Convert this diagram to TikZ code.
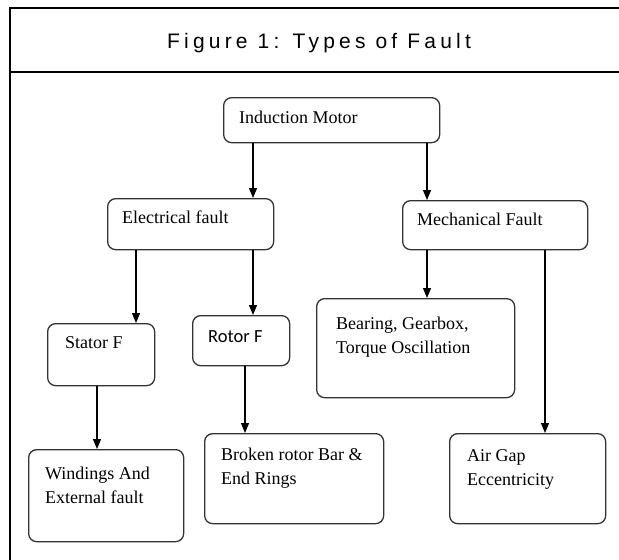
\documentclass[tikz,border=0pt]{standalone}
\usepackage{fontspec}
\setmainfont{Liberation Serif}
\newfontfamily\titlefont[LetterSpace=20]{Liberation Sans}
\newfontfamily\calfont{Carlito}
\usetikzlibrary{positioning,arrows.meta}

\begin{document}
\begin{tikzpicture}[x=1pt,y=-1pt,
  fault/.style = {shape=rectangle, rounded corners=8pt, draw=black!80,
    line width=1.3pt, anchor=north west, inner sep=0pt},
  faulttext/.style = {anchor=north west, inner sep=0pt, align=left,
    font=\fontsize{18}{24}\selectfont},
  arr/.style = {-{Triangle[length=10pt,width=8pt]}, line width=1.2pt}]
  \useasboundingbox (0,0) rectangle (619,560);
  % frame and title band
  \draw[line width=1.5pt] (619,8) -- (10,8) -- (10,560);
  \draw[line width=2.2pt] (10,72) -- (619,72);
  \node (title) [anchor=base, inner sep=0pt,
    font=\titlefont\fontsize{21}{24}\selectfont] at (319,48)
    {Figure 1: Types of Fault};
  % boxes
  \node (im)   [fault, minimum width=216pt, minimum height=45pt] at (223,97) {};
  \node (elec) [fault, minimum width=166pt, minimum height=51pt] at (107,198) {};
  \node (mech) [fault, minimum width=185pt, minimum height=49pt] at (402,200) {};
  \node (stat) [fault, minimum width=107pt, minimum height=62pt] at (47,323) {};
  \node (rot)  [fault, minimum width=97pt,  minimum height=50pt] at (192,315) {};
  \node (bear) [fault, minimum width=198pt, minimum height=99pt] at (316,298) {};
  \node (wind) [fault, minimum width=155pt, minimum height=92pt] at (28,449) {};
  \node (brok) [fault, minimum width=179pt, minimum height=90pt] at (204,433) {};
  \node (air)  [fault, minimum width=156pt, minimum height=90pt] at (449,433) {};
  % texts
  \node (imt)   [faulttext, below right=13.5pt and 16pt of im.north west] {Induction Motor};
  \node (elect) [faulttext, below right=12.5pt and 15pt of elec.north west] {Electrical fault};
  \node (mecht) [faulttext, below right=12.5pt and 15pt of mech.north west] {Mechanical Fault};
  \node (statt) [faulttext, below right=13.5pt and 18pt of stat.north west] {Stator F};
  \node (rott)  [faulttext, font=\calfont\fontsize{18.5}{20}\selectfont,
    below right=15pt and 16pt of rot.north west] {Rotor F};
  \node (beart) [faulttext, below right=18.5pt and 20pt of bear.north west]
    {Bearing, Gearbox,\\Torque Oscillation};
  \node (windt) [faulttext, below right=17.5pt and 17pt of wind.north west]
    {Windings And\\External fault};
  \node (brokt) [faulttext, below right=14.5pt and 17pt of brok.north west]
    {Broken rotor Bar \&\\End Rings};
  \node (airt)  [faulttext, below right=16.5pt and 18pt of air.north west]
    {Air Gap\\Eccentricity};
  % arrow columns
  \coordinate (cola) at (253,0);
  \coordinate (colb) at (427,0);
  \coordinate (colc) at (136,0);
  \coordinate (cold) at (545,0);
  \coordinate (cole) at (97,0);
  \coordinate (colf) at (245,0);
  \draw[arr] (im.south -| cola) -- (elec.north -| cola);
  \draw[arr] (im.south -| colb) -- (mech.north -| colb);
  \draw[arr] (elec.south -| colc) -- (stat.north -| colc);
  \draw[arr] (elec.south -| cola) -- (rot.north -| cola);
  \draw[arr] (mech.south -| colb) -- (bear.north -| colb);
  \draw[arr] (mech.south -| cold) -- (air.north -| cold);
  \draw[arr] (stat.south -| cole) -- (wind.north -| cole);
  \draw[arr] (rot.south -| colf) -- (brok.north -| colf);
\end{tikzpicture}
\end{document}
